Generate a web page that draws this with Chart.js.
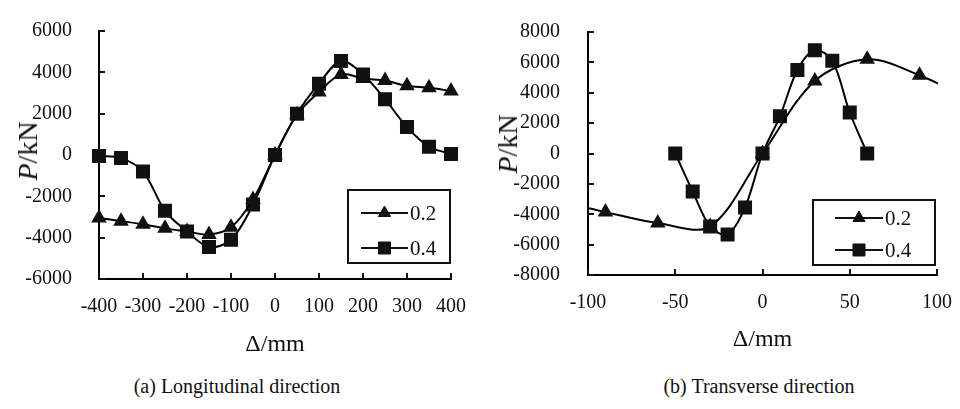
<!DOCTYPE html>
<html>
<head>
<meta charset="utf-8">
<script src="https://cdn.jsdelivr.net/npm/chart.js@4.4.1/dist/chart.umd.min.js"></script>
<style>
  body { margin: 0; background: #fff; width: 960px; height: 409px; position: relative; overflow: hidden;
         font-family: "Liberation Serif", "Times New Roman", serif; color: #111; }
  .panel { position: absolute; top: 0; width: 480px; height: 360px; }
  .ytitle { position: absolute; font-size: 28px; white-space: nowrap; transform: translate(-50%, -50%) rotate(-90deg); }
  .caption { position: absolute; top: 375px; font-size: 20px; white-space: nowrap; transform: translateX(-50%); }
</style>
</head>
<body>
<div class="panel" style="left:0"><canvas id="chartA" width="480" height="360"></canvas></div>
<div class="panel" style="left:480px"><canvas id="chartB" width="480" height="360"></canvas></div>
<div class="ytitle" style="left:28px;top:151px"><i>P</i>/kN</div>
<div class="ytitle" style="left:508px;top:144px"><i>P</i>/kN</div>
<div class="caption" style="left:237px">(a) Longitudinal direction</div>
<div class="caption" style="left:759px">(b) Transverse direction</div>
<script>
// series names (axial load ratio)
const seriesNames = ["0.2", "0.4"];

// (a) longitudinal direction
const longDisp = [-400, -350, -300, -250, -200, -150, -100, -50, 0, 50, 100, 150, 200, 250, 300, 350, 400];
const longP02 = [-3050, -3200, -3350, -3550, -3700, -3850, -3500, -2150, 0, 1950, 3050, 3900, 3700, 3600, 3350, 3250, 3100];
const longP04 = [-50, -150, -800, -2700, -3700, -4450, -4100, -2400, 0, 2000, 3450, 4550, 3900, 2700, 1350, 400, 50];
const longXTicks = [-400, -300, -200, -100, 0, 100, 200, 300, 400];
const longYTicks = [-6000, -4000, -2000, 0, 2000, 4000, 6000];

// (b) transverse direction (0.2 curve runs past the axis limits)
const transDisp02 = [-120, -90, -60, -30, 0, 30, 60, 90, 120];
const transP02 = [-3000, -3860, -4580, -4800, 0, 4780, 6200, 5150, 3500];
const transDisp04 = [-50, -40, -30, -20, -10, 0, 10, 20, 30, 40, 50, 60];
const transP04 = [0, -2500, -4800, -5330, -3550, 0, 2450, 5500, 6800, 6100, 2700, 0];
const transXTicks = [-100, -50, 0, 50, 100];
const transYTicks = [-8000, -6000, -4000, -2000, 0, 2000, 4000, 6000, 8000];

const ink = "#111";
Chart.defaults.font.family = '"Liberation Serif", "Times New Roman", serif';
Chart.defaults.font.size = 20;
Chart.defaults.color = ink;

function toPoints(xs, ys) {
  return xs.map((x, i) => ({ x: x, y: ys[i] }));
}

// short tick marks drawn inside the plot, like the original
const innerTicks = {
  id: "innerTicks",
  beforeDatasetsDraw(chart) {
    const { ctx, chartArea: a, scales } = chart;
    ctx.save();
    ctx.strokeStyle = ink;
    ctx.lineWidth = 2;
    ctx.beginPath();
    scales.x.ticks.forEach(t => {
      const px = Math.round(scales.x.getPixelForValue(t.value));
      ctx.moveTo(px, a.bottom);
      ctx.lineTo(px, a.bottom - 6);
    });
    scales.y.ticks.forEach(t => {
      const py = Math.round(scales.y.getPixelForValue(t.value));
      ctx.moveTo(a.left, py);
      ctx.lineTo(a.left + 6, py);
    });
    ctx.stroke();
    ctx.restore();
  }
};

// boxed legend in the lower right corner of the plot
const boxLegend = {
  id: "boxLegend",
  afterDraw(chart, args, opts) {
    const { ctx, chartArea: a } = chart;
    const x0 = a.right - opts.right - opts.width;
    const y0 = a.bottom - opts.bottom - opts.height;
    ctx.save();
    ctx.fillStyle = "#fff";
    ctx.fillRect(x0, y0, opts.width, opts.height);
    ctx.strokeStyle = ink;
    ctx.lineWidth = 2;
    ctx.strokeRect(x0, y0, opts.width, opts.height);
    ctx.font = '21px "Liberation Serif", "Times New Roman", serif';
    ctx.textBaseline = "middle";
    chart.data.datasets.forEach((ds, i) => {
      const y = y0 + opts.rows[i];
      const lx = x0 + opts.lineStart;
      const lx2 = lx + opts.lineLength;
      ctx.strokeStyle = ink;
      ctx.lineWidth = 2;
      ctx.beginPath();
      ctx.moveTo(lx, y);
      ctx.lineTo(lx2, y);
      ctx.stroke();
      ctx.fillStyle = ink;
      ctx.lineWidth = 1;
      Chart.helpers.drawPoint(ctx, { pointStyle: ds.pointStyle, radius: ds.pointRadius, rotation: 0, borderWidth: 1 }, (lx + lx2) / 2, y);
      ctx.fillStyle = ink;
      ctx.fillText(ds.label, lx2 + 2, y + 1);
    });
    ctx.restore();
  }
};

function makeChart(id, cfg) {
  return new Chart(document.getElementById(id), {
    type: "line",
    data: {
      datasets: [
        {
          label: seriesNames[0],
          data: cfg.series02,
          borderColor: "#000",
          backgroundColor: ink,
          pointBorderColor: ink,
          borderWidth: 2,
          pointStyle: "triangle",
          pointRadius: 7,
          tension: 0.33,
          clip: cfg.clip
        },
        {
          label: seriesNames[1],
          data: cfg.series04,
          borderColor: "#000",
          backgroundColor: ink,
          pointBorderColor: ink,
          borderWidth: 2,
          pointStyle: "rect",
          pointRadius: 8.5,
          tension: 0.33,
          clip: cfg.clip
        }
      ]
    },
    options: {
      responsive: false,
      animation: false,
      devicePixelRatio: 1,
      layout: { padding: { top: cfg.top, left: 0, right: cfg.right, bottom: 0 } },
      elements: { line: { capBezierPoints: false } },
      scales: {
        x: {
          type: "linear",
          min: cfg.xTicks[0],
          max: cfg.xTicks[cfg.xTicks.length - 1],
          afterBuildTicks: s => { s.ticks = cfg.xTicks.map(v => ({ value: v })); },
          afterFit: s => { s.height = cfg.xHeight; },
          grid: { display: false },
          border: { display: true, color: "#000", width: 2 },
          ticks: { autoSkip: false, maxRotation: 0, padding: 8, font: { size: 20 }, callback: v => String(v) },
          title: { display: true, text: "\u0394/mm", font: { size: 24 }, padding: { top: 4, bottom: cfg.titleBottom } }
        },
        y: {
          type: "linear",
          min: cfg.yTicks[0],
          max: cfg.yTicks[cfg.yTicks.length - 1],
          afterBuildTicks: s => { s.ticks = cfg.yTicks.map(v => ({ value: v })); },
          afterFit: s => { s.width = cfg.yWidth; },
          grid: { display: false },
          border: { display: true, color: "#000", width: 2 },
          ticks: { padding: cfg.yPad, font: { size: 20 }, callback: v => String(v) }
        }
      },
      plugins: {
        legend: { display: false },
        tooltip: { enabled: false },
        boxLegend: cfg.legend
      }
    },
    plugins: [innerTicks, boxLegend]
  });
}

makeChart("chartA", {
  series02: toPoints(longDisp, longP02),
  series04: toPoints(longDisp, longP04),
  xTicks: longXTicks,
  yTicks: longYTicks,
  top: 14, right: 29, yWidth: 99, xHeight: 81, yPad: 19, titleBottom: 1,
  clip: false,
  legend: { width: 102, height: 73, right: 1, bottom: 16, rows: [23, 58], lineStart: 13, lineLength: 47 }
});

makeChart("chartB", {
  series02: toPoints(transDisp02, transP02),
  series04: toPoints(transDisp04, transP04),
  xTicks: transXTicks,
  yTicks: transYTicks,
  top: 13, right: 20, yWidth: 108, xHeight: 85, yPad: 20, titleBottom: 6,
  clip: 1,
  legend: { width: 122, height: 65, right: 2, bottom: 10, rows: [18, 50], lineStart: 22, lineLength: 48 }
});
</script>
</body>
</html>
